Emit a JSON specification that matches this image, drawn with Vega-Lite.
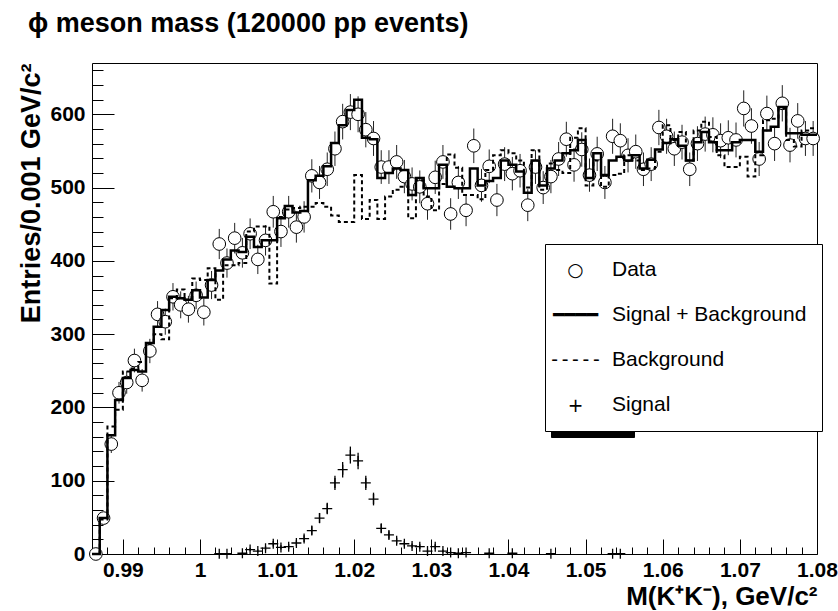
{
  "$schema": "https://vega.github.io/schema/vega-lite/v6.json",
  "width": 725,
  "height": 491,
  "autosize": {"type": "none"},
  "padding": {"left": 92, "top": 63, "right": 21, "bottom": 57},
  "background": "white",
  "title": {"text": "ϕ meson mass (120000 pp events)", "anchor": "start", "frame": "group", "fontSize": 27, "fontWeight": "bold", "font": "Liberation Sans", "color": "black", "dx": -64, "offset": 21},
  "config": {"view": {"stroke": "black", "strokeWidth": 1}, "font": "Liberation Sans"},
  "data": {"values": [
    {"lo":0.986,"c":0.9865,"d":0,"e":0,"sb":0,"bg":0},
    {"lo":0.987,"c":0.9875,"d":49,"e":7.0,"sb":49,"bg":47},
    {"lo":0.988,"c":0.9885,"d":150,"e":12.2,"sb":162,"bg":174},
    {"lo":0.989,"c":0.9895,"d":220,"e":14.8,"sb":210,"bg":197},
    {"lo":0.990,"c":0.9905,"d":234,"e":15.3,"sb":240,"bg":249},
    {"lo":0.991,"c":0.9915,"d":264,"e":16.2,"sb":251,"bg":253},
    {"lo":0.992,"c":0.9925,"d":237,"e":15.4,"sb":249,"bg":262},
    {"lo":0.993,"c":0.9935,"d":277,"e":16.6,"sb":288,"bg":287},
    {"lo":0.994,"c":0.9945,"d":327,"e":18.1,"sb":310,"bg":300},
    {"lo":0.995,"c":0.9955,"d":317,"e":17.8,"sb":333,"bg":293},
    {"lo":0.996,"c":0.9965,"d":351,"e":18.7,"sb":351,"bg":349},
    {"lo":0.997,"c":0.9975,"d":340,"e":18.4,"sb":349,"bg":361},
    {"lo":0.998,"c":0.9985,"d":334,"e":18.3,"sb":347,"bg":347},
    {"lo":0.999,"c":0.9995,"d":353,"e":18.8,"sb":360,"bg":376},
    {"lo":1.000,"c":1.0005,"d":330,"e":18.2,"sb":350,"bg":374},
    {"lo":1.001,"c":1.0015,"d":367,"e":19.2,"sb":374,"bg":390},
    {"lo":1.002,"c":1.0025,"d":423,"e":20.6,"sb":387,"bg":347,"s":0.5,"se":0.7},
    {"lo":1.003,"c":1.0035,"d":397,"e":19.9,"sb":402,"bg":394,"s":0.5,"se":0.7},
    {"lo":1.004,"c":1.0045,"d":431,"e":20.8,"sb":414,"bg":394},
    {"lo":1.005,"c":1.0055,"d":411,"e":20.3,"sb":412,"bg":397,"s":1,"se":1},
    {"lo":1.006,"c":1.0065,"d":437,"e":20.9,"sb":433,"bg":440,"s":6,"se":2.4},
    {"lo":1.007,"c":1.0075,"d":402,"e":20.0,"sb":419,"bg":447,"s":4,"se":2},
    {"lo":1.008,"c":1.0085,"d":428,"e":20.7,"sb":428,"bg":447,"s":8,"se":2.8},
    {"lo":1.009,"c":1.0095,"d":467,"e":21.6,"sb":428,"bg":369,"s":14,"se":3.7},
    {"lo":1.010,"c":1.0105,"d":440,"e":21.0,"sb":458,"bg":460,"s":9,"se":3},
    {"lo":1.011,"c":1.0115,"d":467,"e":21.6,"sb":475,"bg":470,"s":10,"se":3.2},
    {"lo":1.012,"c":1.0125,"d":446,"e":21.1,"sb":466,"bg":472,"s":15,"se":3.9},
    {"lo":1.013,"c":1.0135,"d":460,"e":21.4,"sb":468,"bg":474,"s":21,"se":4.6},
    {"lo":1.014,"c":1.0145,"d":516,"e":22.7,"sb":510,"bg":474,"s":32,"se":5.7},
    {"lo":1.015,"c":1.0155,"d":507,"e":22.5,"sb":516,"bg":479,"s":49,"se":7},
    {"lo":1.016,"c":1.0165,"d":525,"e":22.9,"sb":529,"bg":474,"s":62,"se":7.9},
    {"lo":1.017,"c":1.0175,"d":553,"e":23.5,"sb":561,"bg":462,"s":97,"se":9.8},
    {"lo":1.018,"c":1.0185,"d":590,"e":24.3,"sb":585,"bg":453,"s":115,"se":10.7},
    {"lo":1.019,"c":1.0195,"d":603,"e":24.6,"sb":606,"bg":453,"s":135,"se":11.6},
    {"lo":1.020,"c":1.0205,"d":600,"e":24.5,"sb":620,"bg":517,"s":127,"se":11.3},
    {"lo":1.021,"c":1.0215,"d":579,"e":24.1,"sb":568,"bg":457,"s":97,"se":9.8},
    {"lo":1.022,"c":1.0225,"d":567,"e":23.8,"sb":566,"bg":483,"s":75,"se":8.7},
    {"lo":1.023,"c":1.0235,"d":528,"e":23.0,"sb":513,"bg":457,"s":35,"se":5.9},
    {"lo":1.024,"c":1.0245,"d":528,"e":23.0,"sb":520,"bg":488,"s":26,"se":5.1},
    {"lo":1.025,"c":1.0255,"d":535,"e":23.1,"sb":526,"bg":497,"s":18,"se":4.2},
    {"lo":1.026,"c":1.0265,"d":515,"e":22.7,"sb":524,"bg":501,"s":14,"se":3.7},
    {"lo":1.027,"c":1.0275,"d":505,"e":22.5,"sb":490,"bg":458,"s":11,"se":3.3},
    {"lo":1.028,"c":1.0285,"d":501,"e":22.4,"sb":513,"bg":510,"s":10,"se":3.2},
    {"lo":1.029,"c":1.0295,"d":478,"e":21.9,"sb":499,"bg":488,"s":4,"se":2},
    {"lo":1.030,"c":1.0305,"d":514,"e":22.7,"sb":499,"bg":469,"s":10,"se":3.2},
    {"lo":1.031,"c":1.0315,"d":535,"e":23.1,"sb":531,"bg":505,"s":4,"se":2},
    {"lo":1.032,"c":1.0325,"d":464,"e":21.5,"sb":501,"bg":545,"s":2,"se":1.4},
    {"lo":1.033,"c":1.0335,"d":507,"e":22.5,"sb":499,"bg":527,"s":1,"se":1},
    {"lo":1.034,"c":1.0345,"d":469,"e":21.7,"sb":499,"bg":490,"s":2,"se":1.4},
    {"lo":1.035,"c":1.0355,"d":557,"e":23.6,"sb":526,"bg":490},
    {"lo":1.036,"c":1.0365,"d":503,"e":22.4,"sb":503,"bg":484},
    {"lo":1.037,"c":1.0375,"d":529,"e":23.0,"sb":509,"bg":524,"s":1,"se":1},
    {"lo":1.038,"c":1.0385,"d":483,"e":22.0,"sb":513,"bg":544},
    {"lo":1.039,"c":1.0395,"d":532,"e":23.1,"sb":537,"bg":551},
    {"lo":1.040,"c":1.0405,"d":519,"e":22.8,"sb":531,"bg":547,"s":1,"se":1},
    {"lo":1.041,"c":1.0415,"d":523,"e":22.9,"sb":522,"bg":537},
    {"lo":1.042,"c":1.0425,"d":476,"e":21.8,"sb":493,"bg":500},
    {"lo":1.043,"c":1.0435,"d":528,"e":23.0,"sb":537,"bg":551},
    {"lo":1.044,"c":1.0445,"d":500,"e":22.4,"sb":503,"bg":497},
    {"lo":1.045,"c":1.0455,"d":515,"e":22.7,"sb":526,"bg":533,"s":0.5,"se":0.7},
    {"lo":1.046,"c":1.0465,"d":539,"e":23.2,"sb":537,"bg":524},
    {"lo":1.047,"c":1.0475,"d":566,"e":23.8,"sb":547,"bg":520},
    {"lo":1.048,"c":1.0485,"d":531,"e":23.0,"sb":551,"bg":568},
    {"lo":1.049,"c":1.0495,"d":552,"e":23.5,"sb":565,"bg":581},
    {"lo":1.050,"c":1.0505,"d":517,"e":22.7,"sb":513,"bg":503},
    {"lo":1.051,"c":1.0515,"d":546,"e":23.4,"sb":547,"bg":537},
    {"lo":1.052,"c":1.0525,"d":507,"e":22.5,"sb":517,"bg":501},
    {"lo":1.053,"c":1.0535,"d":570,"e":23.9,"sb":537,"bg":517,"s":0.5,"se":0.7},
    {"lo":1.054,"c":1.0545,"d":564,"e":23.7,"sb":542,"bg":519,"s":0.5,"se":0.7},
    {"lo":1.055,"c":1.0555,"d":544,"e":23.3,"sb":537,"bg":544},
    {"lo":1.056,"c":1.0565,"d":549,"e":23.4,"sb":544,"bg":537},
    {"lo":1.057,"c":1.0575,"d":525,"e":22.9,"sb":526,"bg":524},
    {"lo":1.058,"c":1.0585,"d":532,"e":23.1,"sb":538,"bg":526},
    {"lo":1.059,"c":1.0595,"d":582,"e":24.1,"sb":552,"bg":549},
    {"lo":1.060,"c":1.0605,"d":570,"e":23.9,"sb":561,"bg":585},
    {"lo":1.061,"c":1.0615,"d":553,"e":23.5,"sb":566,"bg":565},
    {"lo":1.062,"c":1.0625,"d":562,"e":23.7,"sb":557,"bg":576},
    {"lo":1.063,"c":1.0635,"d":525,"e":22.9,"sb":537,"bg":537},
    {"lo":1.064,"c":1.0645,"d":560,"e":23.7,"sb":562,"bg":578},
    {"lo":1.065,"c":1.0655,"d":573,"e":23.9,"sb":576,"bg":590},
    {"lo":1.066,"c":1.0665,"d":572,"e":23.9,"sb":562,"bg":569},
    {"lo":1.067,"c":1.0675,"d":564,"e":23.7,"sb":551,"bg":544},
    {"lo":1.068,"c":1.0685,"d":568,"e":23.8,"sb":551,"bg":528},
    {"lo":1.069,"c":1.0695,"d":565,"e":23.8,"sb":562,"bg":528},
    {"lo":1.070,"c":1.0705,"d":608,"e":24.7,"sb":565,"bg":542},
    {"lo":1.071,"c":1.0715,"d":584,"e":24.2,"sb":565,"bg":515},
    {"lo":1.072,"c":1.0725,"d":539,"e":23.2,"sb":549,"bg":544},
    {"lo":1.073,"c":1.0735,"d":601,"e":24.5,"sb":578,"bg":592},
    {"lo":1.074,"c":1.0745,"d":560,"e":23.7,"sb":583,"bg":594},
    {"lo":1.075,"c":1.0755,"d":615,"e":24.8,"sb":610,"bg":608},
    {"lo":1.076,"c":1.0765,"d":558,"e":23.6,"sb":574,"bg":565},
    {"lo":1.077,"c":1.0775,"d":591,"e":24.3,"sb":574,"bg":556},
    {"lo":1.078,"c":1.0785,"d":567,"e":23.8,"sb":572,"bg":578},
    {"lo":1.079,"c":1.0795,"d":567,"e":23.8,"sb":572,"bg":581},
    {"lo":1.080,"sb":572,"bg":581}
  ]},
  "layer": [
    {
      "mark": {"type": "errorbar", "rule": {"color": "#222222", "strokeWidth": 1}},
      "encoding": {
        "x": {"field": "c", "type": "quantitative", "title": "M(K⁺K⁻), GeV/c²",
          "scale": {"domain": [0.986, 1.08], "nice": false, "zero": false},
          "axis": {
            "values": [0.988,0.99,0.992,0.994,0.996,0.998,1,1.002,1.004,1.006,1.008,1.01,1.012,1.014,1.016,1.018,1.02,1.022,1.024,1.026,1.028,1.03,1.032,1.034,1.036,1.038,1.04,1.042,1.044,1.046,1.048,1.05,1.052,1.054,1.056,1.058,1.06,1.062,1.064,1.066,1.068,1.07,1.072,1.074,1.076,1.078,1.08],
            "tickCount": 1000,
            "tickSize": {"condition": {"test": "abs(datum.value*100 - round(datum.value*100)) < 0.001", "value": -15}, "value": -7},
            "labelExpr": "abs(datum.value*100 - round(datum.value*100)) < 0.001 ? format(datum.value, '.3~r') : ''",
            "tickColor": "black", "tickWidth": 1, "domain": false, "grid": false,
            "labelOverlap": false, "labelFlush": false,
            "labelFont": "Liberation Sans", "labelFontSize": 21, "labelFontWeight": "bold", "labelColor": "black", "labelPadding": 20,
            "titleFont": "Liberation Sans", "titleFontSize": 26, "titleFontWeight": "bold", "titleColor": "black",
            "titleAnchor": "end", "titleAlign": "right", "titleX": 725, "titleY": 50, "titleBaseline": "alphabetic"
          }
        },
        "y": {"field": "d", "type": "quantitative", "title": "Entries/0.001 GeV/c²",
          "scale": {"domain": [0, 670], "nice": false, "zero": false},
          "axis": {
            "values": [0,20,40,60,80,100,120,140,160,180,200,220,240,260,280,300,320,340,360,380,400,420,440,460,480,500,520,540,560,580,600,620,640,660],
            "tickCount": 1000,
            "tickSize": {"condition": {"test": "datum.value % 100 === 0", "value": -22}, "value": -11},
            "labelExpr": "datum.value % 100 === 0 ? format(datum.value, 'd') : ''",
            "tickColor": "black", "tickWidth": 1, "domain": false, "grid": false,
            "labelOverlap": false, "labelFlush": false,
            "labelFont": "Liberation Sans", "labelFontSize": 21, "labelFontWeight": "bold", "labelColor": "black", "labelPadding": 29,
            "titleFont": "Liberation Sans", "titleFontSize": 27, "titleFontWeight": "bold", "titleColor": "black",
            "titleAngle": -90, "titleAlign": "right", "titleX": -47, "titleY": 0, "titleBaseline": "bottom"
          }
        },
        "yError": {"field": "e"}
      }
    },
    {
      "mark": {"type": "point", "filled": false, "fill": "white", "stroke": "black", "strokeWidth": 1, "opacity": 1, "size": 160},
      "encoding": {
        "x": {"field": "c", "type": "quantitative", "title": "M(K⁺K⁻), GeV/c²"},
        "y": {"field": "d", "type": "quantitative", "title": "Entries/0.001 GeV/c²"},
        "shape": {"datum": "Data",
          "scale": {"domain": ["Data", "Signal + Background", "Background", "Signal"], "range": ["circle", "stroke", "stroke", "stroke"]},
          "legend": {
            "title": null, "orient": "none", "legendX": 453, "legendY": 181, "zindex": 2,
            "fillColor": "white", "strokeColor": "black", "padding": 15.5,
            "symbolSize": 400, "symbolOpacity": 0, "symbolStrokeWidth": 1,
            "rowPadding": 23, "labelOffset": 30.5, "labelLimit": 400,
            "labelFont": "Liberation Sans", "labelFontSize": 21, "labelColor": "black"
          }
        },
        "fill": {"datum": "D1",
          "scale": {"domain": ["D1", "D2", "D3", "D4"], "range": ["white", "white", "white", "white"]},
          "legend": {
            "title": null, "orient": "none", "legendX": 459, "legendY": 187, "zindex": 1,
            "fillColor": "black", "strokeColor": "black", "padding": 15.5,
            "symbolSize": 400, "symbolOpacity": 0, "symbolStrokeWidth": 1,
            "rowPadding": 23, "labelOffset": 30.5, "labelLimit": 400,
            "labelFont": "Liberation Sans", "labelFontSize": 21, "labelColor": "black",
            "labelExpr": "datum.value === 'D2' ? '\u00a0\u00a0\u00a0\u00a0\u00a0\u00a0\u00a0\u00a0\u00a0\u00a0\u00a0\u00a0\u00a0\u00a0\u00a0\u00a0\u00a0\u00a0\u00a0\u00a0\u00a0\u00a0\u00a0\u00a0\u00a0\u00a0\u00a0\u00a0\u00a0\u00a0\u00a0\u00a0\u00a0' : '\u00a0'"
          }
        }
      }
    },
    {
      "mark": {"type": "line", "interpolate": "step-after", "color": "black", "strokeWidth": 2.5},
      "encoding": {
        "x": {"field": "lo", "type": "quantitative", "title": "M(K⁺K⁻), GeV/c²"},
        "y": {"field": "sb", "type": "quantitative", "title": "Entries/0.001 GeV/c²"}
      }
    },
    {
      "mark": {"type": "line", "interpolate": "step-after", "color": "black", "strokeWidth": 2, "strokeDash": [4, 3]},
      "encoding": {
        "x": {"field": "lo", "type": "quantitative", "title": "M(K⁺K⁻), GeV/c²"},
        "y": {"field": "bg", "type": "quantitative", "title": "Entries/0.001 GeV/c²"}
      }
    },
    {
      "mark": {"type": "errorbar", "rule": {"color": "black", "strokeWidth": 1.3}},
      "encoding": {
        "x": {"field": "c", "type": "quantitative", "title": "M(K⁺K⁻), GeV/c²"},
        "y": {"field": "s", "type": "quantitative", "title": "Entries/0.001 GeV/c²"},
        "yError": {"field": "se"}
      }
    },
    {
      "mark": {"type": "point", "shape": "M-1,0H1M0,-1V1", "filled": false, "fill": "transparent", "strokeWidth": 1.3, "opacity": 1, "size": 100},
      "encoding": {
        "x": {"field": "c", "type": "quantitative", "title": "M(K⁺K⁻), GeV/c²"},
        "y": {"field": "s", "type": "quantitative", "title": "Entries/0.001 GeV/c²"},
        "stroke": {"datum": "s",
          "scale": {"domain": ["d", "sb", "bg", "s"], "range": ["black", "black", "black", "black"]},
          "legend": {
            "title": null, "orient": "none", "legendX": 447, "legendY": 181, "zindex": 3,
            "padding": 15.5,
            "symbolType": "stroke", "symbolSize": 400, "symbolOpacity": 0, "symbolStrokeWidth": 1,
            "rowPadding": 24.2, "labelOffset": 0, "labelAlign": "center", "labelLimit": 200,
            "labelFont": "DejaVu Sans", "labelFontSize": 18.7, "labelColor": "black",
            "labelExpr": "datum.value === 'd' ? '○' : datum.value === 'sb' ? '━━━━' : datum.value === 'bg' ? '-\u2009-\u2009-\u2009-\u2009-' : '+'"
          }
        }
      }
    }
  ]
}
